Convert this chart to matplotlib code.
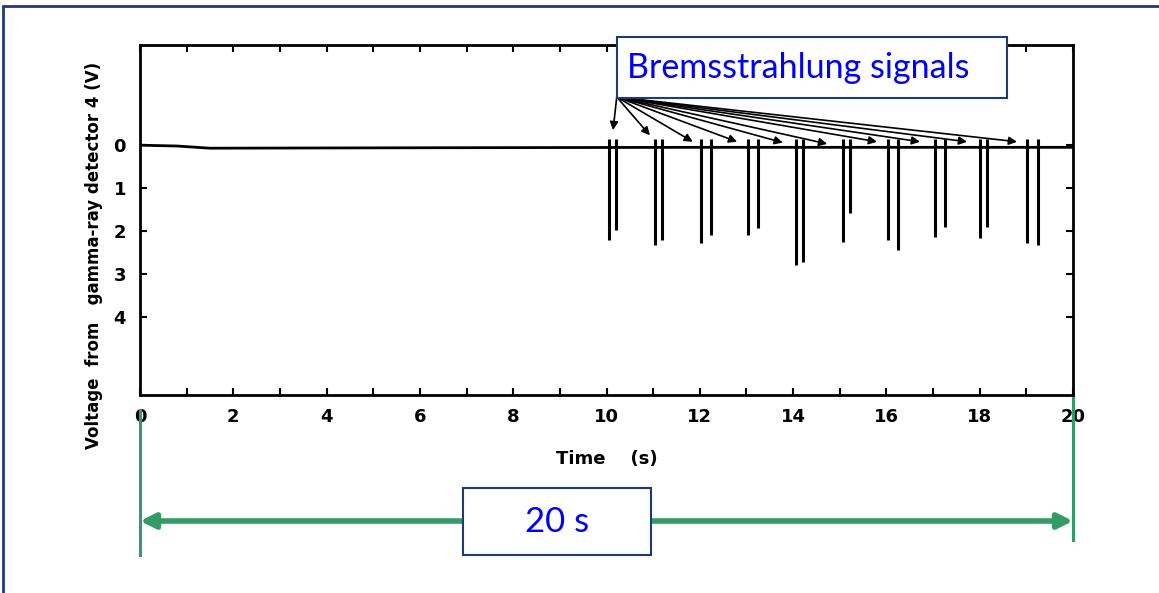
import matplotlib.pyplot as plt
from matplotlib.patches import Rectangle

# baseline of the detector trace (time in s, voltage in V, positive = downward)
base_t = [0, 0.8, 1.5, 6, 12, 20]
base_v = [0, 0.02, 0.07, 0.06, 0.05, 0.05]

# bremsstrahlung spikes (pairs)
spike_t = [10.06, 10.20, 11.04, 11.20, 12.03, 12.23, 13.04, 13.25, 14.06, 14.22,
           15.06, 15.22, 16.04, 16.25, 17.04, 17.26, 18.01, 18.15, 19.01, 19.25]
spike_v = [2.21, 1.98, 2.33, 2.21, 2.28, 2.09, 2.09, 1.93, 2.79, 2.72,
           2.25, 1.58, 2.21, 2.44, 2.13, 1.90, 2.16, 1.90, 2.28, 2.33]

# arrows from the annotation box to the signals
arrow_from = (10.22, -1.12)
arrow_t = [10.14, 10.93, 11.85, 12.80, 13.78, 14.73, 15.80, 16.72, 17.73, 18.80]
arrow_v = [-0.35, -0.23, -0.08, -0.08, -0.06, -0.03, -0.08, -0.08, -0.08, -0.08]

xticks = [0, 2, 4, 6, 8, 10, 12, 14, 16, 18, 20]
xtick_labels = ['0', '2', '4', '6', '8', '10', '12', '14', '16', '18', '20']
yticks = [0, 1, 2, 3, 4]

W, H = 1159, 593
fig = plt.figure(figsize=(W / 100, H / 100), dpi=100)
ax = fig.add_axes([140 / W, (H - 395) / H, 933 / W, 350 / H])

ax.plot(base_t, base_v, color='black', linewidth=2)
ax.vlines(spike_t, -0.15, spike_v, color='black', linewidth=2.2)

for t, v in zip(arrow_t, arrow_v):
    ax.annotate('', xy=(t, v), xytext=arrow_from,
                arrowprops=dict(arrowstyle='-|>', color='black', lw=1.2,
                                mutation_scale=12, shrinkA=0, shrinkB=0))

ax.set_xlim(0, 20)
ax.set_ylim(5.81, -2.33)
ax.set_xticks(xticks)
ax.set_xticklabels(xtick_labels)
ax.set_xticks(range(0, 21), minor=True)
ax.set_yticks(yticks)
ax.tick_params(axis='both', which='both', direction='in', length=5, width=1.5,
               top=True, right=True, labelsize=13)
ax.tick_params(axis='x', pad=9)
ax.tick_params(axis='y', pad=10)
for lbl in ax.get_xticklabels() + ax.get_yticklabels():
    lbl.set_fontweight('bold')
for s in ax.spines.values():
    s.set_linewidth(2)

ax.set_ylabel('Voltage  from   gamma-ray detector 4 (V)', fontsize=12, fontweight='bold')
ax.yaxis.set_label_coords(-0.04, 0.40)
ax.set_xlabel('Time    (s)', fontsize=13, fontweight='bold')
ax.xaxis.set_label_coords(0.50, -0.157)

# green 20 s span
green = '#349b66'
tr = ax.get_xaxis_transform()
ax.plot([0, 0], [-0.043, -0.457], color=green, lw=2.2, transform=tr, clip_on=False)
ax.plot([20, 20], [0.0, -0.414], color=green, lw=2.2, transform=tr, clip_on=False)
ax.annotate('', xy=(0, -0.36), xytext=(20, -0.36), xycoords=tr, textcoords=tr,
            arrowprops=dict(arrowstyle='<|-|>', color=green, lw=4,
                            mutation_scale=22, shrinkA=0, shrinkB=0))

navy = '#1f3a7a'
# text boxes (figure pixel positions)
def box(x0, y0, x1, y1):
    r = Rectangle((x0 / W, 1 - y1 / H), (x1 - x0) / W, (y1 - y0) / H,
                  transform=fig.transFigure, facecolor='white', edgecolor=navy,
                  linewidth=1.5, zorder=5)
    fig.patches.append(r)

box(617, 37, 1007, 98)
fig.text(627 / W, 1 - 68 / H, 'Bremsstrahlung signals', color='#0000ff',
         fontsize=24.5, family='Lato', ha='left', va='center', zorder=6)
box(463, 488, 651, 555)
fig.text(557 / W, 1 - 522 / H, '20 s', color='#0000ff', fontsize=25,
         family='Lato', ha='center', va='center', zorder=6)

# slide border
fig.patches.append(Rectangle((3 / W, -0.05), 1.1, 1 - 6 / H + 0.05,
                             transform=fig.transFigure, facecolor='none',
                             edgecolor=navy, linewidth=2))

fig.savefig('out.png', dpi=100)
